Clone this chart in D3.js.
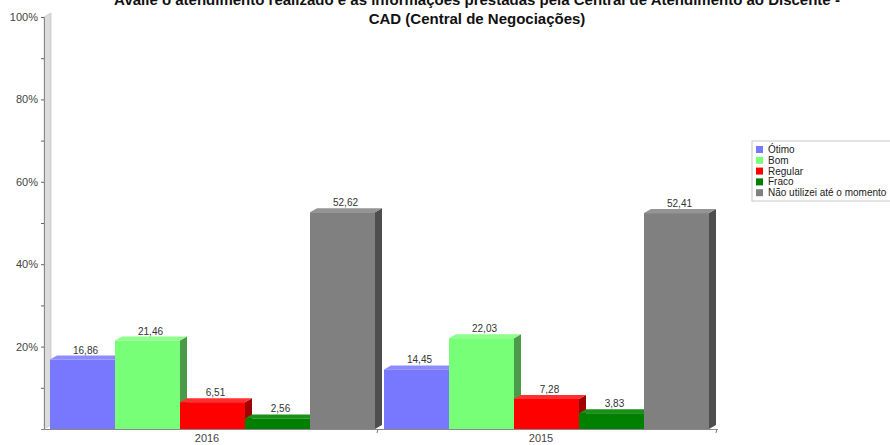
<!DOCTYPE html>
<html><head><meta charset="utf-8">
<script src="https://cdn.jsdelivr.net/npm/d3@7"></script>
<style>body{margin:0;background:#fff}svg{display:block}text{font-family:"Liberation Sans",Arial,sans-serif}</style>
</head><body><svg id="c" width="890" height="445"></svg>
<script>
const titleLines = ["Avalie o atendimento realizado e as informações prestadas pela Central de Atendimento ao Discente -", "CAD (Central de Negociações)"];
const categories = ["2016", "2015"];
const series = ["Ótimo", "Bom", "Regular", "Fraco", "Não utilizei até o momento"];
const values2016 = [16.86, 21.46, 6.51, 2.56, 52.62];
const values2015 = [14.45, 22.03, 7.28, 3.83, 52.41];
const yTicks = [20, 40, 60, 80, 100];
const minorTicks = [10, 30, 50, 70, 90];
const frontColors = ["#7878ff", "#78ff78", "#ff0000", "#008000", "#808080"];
const topColors = ["#8c8cff", "#8cff8c", "#ff3030", "#1a901a", "#949494"];
const sideColors = ["#4a4ab0", "#4a9a4a", "#a00000", "#005000", "#4e4e4e"];

const svg = d3.select("#c");
const dx = 7, dy = -4;
const y = d3.scaleLinear().domain([0, 100]).range([429, 17]);
const x0 = d3.scaleBand().domain(categories).range([48, 716]).padding(0);
const x1 = d3.scaleBand().domain(series).range([2, 327]).padding(0);
const dataByCat = {"2016": values2016, "2015": values2015};

// title (first line is partly cut off at the top, as in the reference)
svg.selectAll("text.title").data(titleLines).join("text")
  .attr("class", "title")
  .attr("x", 477).attr("y", (d, i) => 5 + i * 19)
  .attr("text-anchor", "middle").attr("font-size", 15).attr("font-weight", "bold").attr("fill", "#111")
  .text(d => d);

// left wall
svg.append("path")
  .attr("d", `M44,${y(0)} L44,${y(100)} L${44 + dx},${y(100) + dy} L${44 + dx},${y(0) + dy} Z`)
  .attr("fill", "#dcdcdc").attr("stroke", "#bdbdbd").attr("stroke-width", 0.6);

// y axis
const yAxis = d3.axisLeft(y).tickValues(yTicks).tickSize(3).tickFormat(d => d + "%");
const gy = svg.append("g").attr("transform", "translate(44,0)").call(yAxis);
gy.select(".domain").attr("stroke", "#888");
gy.selectAll(".tick line").attr("stroke", "#666");
gy.selectAll(".tick text").attr("font-size", 11).attr("fill", "#444").attr("font-family", "Liberation Sans, Arial, sans-serif");
const yMinor = d3.axisLeft(y).tickValues(minorTicks).tickSize(3).tickFormat("");
const gm = svg.append("g").attr("transform", "translate(44,0)").call(yMinor);
gm.select(".domain").remove();
gm.selectAll(".tick line").attr("stroke", "#666");

// bars
categories.forEach(cat => {
  const vals = dataByCat[cat];
  const g = svg.append("g").attr("transform", `translate(${x0(cat)},0)`);
  series.forEach((s, i) => {
    const xl = x1(s), w = x1.bandwidth();
    const yt = y(vals[i]), yb = y(0);
    g.append("path").attr("d", `M${xl + w},${yb} L${xl + w},${yt} L${xl + w + dx},${yt + dy} L${xl + w + dx},${yb + dy} Z`).attr("fill", sideColors[i]);
    g.append("path").attr("d", `M${xl},${yt} L${xl + dx},${yt + dy} L${xl + w + dx},${yt + dy} L${xl + w},${yt} Z`).attr("fill", topColors[i]);
    g.append("rect").attr("x", xl).attr("y", yt).attr("width", w).attr("height", yb - yt).attr("fill", frontColors[i]);
  });
  series.forEach((s, i) => {
    g.append("text").attr("x", x1(s) + x1.bandwidth() / 2 + 3).attr("y", y(vals[i]) - 6)
      .attr("text-anchor", "middle").attr("font-size", 10).attr("fill", "#333")
      .text(d3.format(".2f")(vals[i]).replace(".", ","));
  });
});

// x axis
const xAxis = d3.axisBottom(x0).tickSize(0).tickPadding(5);
const gx = svg.append("g").attr("transform", `translate(0,${y(0)})`).call(xAxis);
gx.select(".domain").attr("stroke", "#888").attr("d", `M44,0.5H718`);
gx.selectAll(".tick text").attr("font-size", 11).attr("fill", "#444").attr("font-family", "Liberation Sans, Arial, sans-serif").attr("dx", -8);
[x0("2015") - 4, 717].forEach(xx => {
  svg.append("line").attr("x1", xx).attr("x2", xx - 1).attr("y1", y(0)).attr("y2", y(0) + 4).attr("stroke", "#777");
});

// legend
const lg = svg.append("g").attr("transform", "translate(752,141)");
lg.append("rect").attr("x", 0).attr("y", 0).attr("width", 145).attr("height", 60).attr("fill", "#fff").attr("stroke", "#c8c8c8");
series.forEach((s, i) => {
  lg.append("rect").attr("x", 4).attr("y", 5 + i * 10.8).attr("width", 7).attr("height", 7).attr("fill", frontColors[i]);
  lg.append("text").attr("x", 16).attr("y", 12 + i * 10.8).attr("font-size", 10).attr("fill", "#222").text(s);
});
</script></body></html>
